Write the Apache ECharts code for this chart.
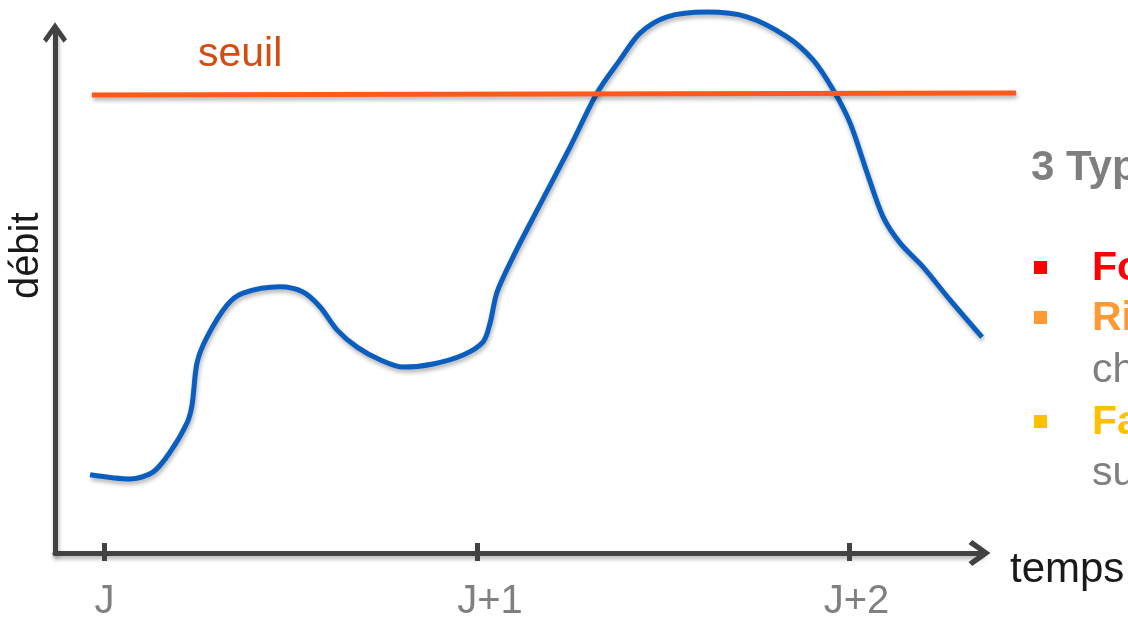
<!DOCTYPE html>
<html>
<head>
<meta charset="utf-8">
<script src="https://cdn.jsdelivr.net/npm/echarts@6/dist/echarts.min.js"></script>
<style>
html,body{margin:0;padding:0;background:#fff;}
#chart{width:1128px;height:617px;}
</style>
</head>
<body>
<div id="chart"></div>
<script>
// time in hours from day J
const hours = [-0.93, 1.64, 3.12, 4.22, 5.32, 5.64, 5.96, 6.60, 7.89, 8.92, 11.31, 12.79, 13.88, 14.98, 16.27, 17.75, 19.23, 21.17, 23.10, 24.39, 24.84, 25.29, 26.32, 27.87, 29.99, 31.73, 33.21, 34.50, 36.24, 38.82, 41.39, 43.97, 45.65, 46.94, 48.03, 49.13, 50.16, 51.26, 52.73, 54.47, 56.54];
// discharge (arbitrary units)
const debit = [14.9, 14.1, 15.4, 19.2, 24.8, 28.2, 36.2, 41.1, 47.2, 49.5, 50.7, 49.7, 46.9, 42.5, 39.2, 36.8, 35.4, 36.0, 37.7, 40.2, 43.8, 49.7, 56.4, 65.3, 77.3, 87.6, 93.9, 99.0, 102.1, 103.0, 102.1, 98.3, 93.9, 88.2, 81.9, 72.4, 64.0, 59.0, 54.5, 48.2, 41.1];
const seuilHours = [-0.81, 58.73];
const seuilValues = [87.2, 87.6];
const seuilLabel = 'seuil';
const tickHours = [0, 24, 48];
const tickLabels = ['J', 'J+1', 'J+2'];
const xName = 'temps';
const yName = 'débit';
const panelTitle = '3 Typ';
const panelItems = [
  {text: 'Fo', color: '#FF0000', bold: true, bullet: true},
  {text: 'Ri', color: '#FF9933', bold: true, bullet: true},
  {text: 'ch', color: '#7F7F7F', bold: false, bullet: false},
  {text: 'Fa', color: '#FFC000', bold: true, bullet: true},
  {text: 'su', color: '#7F7F7F', bold: false, bullet: false}
];

const FONT = '"Liberation Sans", Arial, sans-serif';
const AXIS_COLOR = '#424242';
const chevron = 'path://M12,0 L24,17 L20.5,20.5 L12,8.6 L3.5,20.5 L0,17 Z';
const shadow = {shadowColor: 'rgba(0,0,0,0.30)', shadowBlur: 4, shadowOffsetX: 1, shadowOffsetY: 3};

const chart = echarts.init(document.getElementById('chart'), null, {renderer: 'canvas'});

const panelY = [168, 269, 319, 371, 423, 474];
const graphics = [{
  type: 'text', x: 1031, y: panelY[0], style: {
    text: panelTitle, fill: '#7F7F7F', font: 'bold 42px ' + FONT, verticalAlign: 'middle'
  }
}];
panelItems.forEach((it, i) => {
  const y = panelY[i + 1];
  graphics.push({
    type: 'text', x: 1092, y: y, style: {
      text: it.text, fill: it.color, font: (it.bold ? 'bold ' : '') + '41px ' + FONT, verticalAlign: 'middle'
    }
  });
  if (it.bullet) {
    graphics.push({type: 'rect', shape: {x: 1034, y: y - 8, width: 13, height: 13}, style: {fill: it.color}});
  }
});

const labelShift = [0, 26, 14];
const rich = {};
tickLabels.forEach((t, i) => {
  rich['t' + i] = {fontSize: 40, color: '#808080', fontFamily: FONT, padding: [0, 0, 0, labelShift[i]]};
});

const option = {
  animation: false,
  backgroundColor: '#ffffff',
  grid: [
    {left: 55, right: 146.5, top: 30.5, bottom: 64, containLabel: false, outerBoundsMode: 'none'},
    {left: 55, right: 98, top: 30.5, bottom: 64, containLabel: false, outerBoundsMode: 'none'}
  ],
  xAxis: [{
    gridIndex: 0, type: 'value', min: -3.19, max: 56.5, position: 'bottom',
    name: xName, nameLocation: 'end', nameGap: 28.5,
    nameTextStyle: {fontSize: 42, color: '#1a1a1a', fontFamily: FONT, verticalAlign: 'top', lineHeight: 34},
    axisLine: {show: true, onZero: false, symbol: ['none', chevron], symbolSize: [27, 22], symbolOffset: [0, -2],
      lineStyle: Object.assign({color: AXIS_COLOR, width: 5}, shadow)},
    axisTick: {show: true, customValues: tickHours, length: 8, lineStyle: {color: AXIS_COLOR, width: 5}},
    axisLabel: {show: true, customValues: tickHours, margin: 29, fontSize: 40, color: '#808080', fontFamily: FONT,
      formatter: v => { const i = tickHours.indexOf(v); return i < 0 ? '' : '{t' + i + '|' + tickLabels[i] + '}'; },
      rich: rich},
    splitLine: {show: false}
  }, {
    gridIndex: 0, type: 'value', min: -3.19, max: 56.5, position: 'bottom',
    axisLine: {show: false, onZero: false},
    axisTick: {show: true, inside: true, customValues: tickHours, length: 10, lineStyle: {color: AXIS_COLOR, width: 5}},
    axisLabel: {show: false},
    splitLine: {show: false}
  }, {
    gridIndex: 1, type: 'value', min: -3.19, max: 59.63, show: false
  }],
  yAxis: [{
    gridIndex: 0, type: 'value', min: 0, max: 99.5,
    name: yName, nameLocation: 'middle', nameRotate: 90, nameGap: 8,
    nameTextStyle: {fontSize: 40, color: '#1a1a1a', fontFamily: FONT, padding: [0, 0, 0, 72]},
    axisLine: {show: true, onZero: false, symbol: ['none', chevron], symbolSize: [24, 21], symbolOffset: [0, -2],
      lineStyle: Object.assign({color: AXIS_COLOR, width: 5}, shadow)},
    axisTick: {show: false},
    axisLabel: {show: false},
    splitLine: {show: false}
  }, {
    gridIndex: 1, type: 'value', min: 0, max: 99.5, show: false
  }],
  series: [{
    type: 'line', name: yName, xAxisIndex: 0, yAxisIndex: 0, clip: false, smooth: 0.3, symbol: 'none',
    data: hours.map((h, i) => [h, debit[i]]),
    lineStyle: Object.assign({color: '#0A5EC0', width: 5}, shadow),
    z: 3
  }, {
    type: 'line', name: seuilLabel, xAxisIndex: 2, yAxisIndex: 1, clip: false,
    symbol: 'circle', symbolSize: 1, showSymbol: true,
    itemStyle: {color: '#FF5A1A'},
    data: seuilHours.map((h, i) => {
      const d = {value: [h, seuilValues[i]]};
      if (i === 0) {
        d.label = {show: true, position: [106.5, -40], align: 'left', verticalAlign: 'middle', formatter: seuilLabel,
          fontSize: 41, color: '#D44C10', fontFamily: FONT};
      }
      return d;
    }),
    lineStyle: Object.assign({color: '#FF5A1A', width: 5}, shadow),
    z: 4
  }],
  graphic: graphics
};
chart.setOption(option);
</script>
</body>
</html>
